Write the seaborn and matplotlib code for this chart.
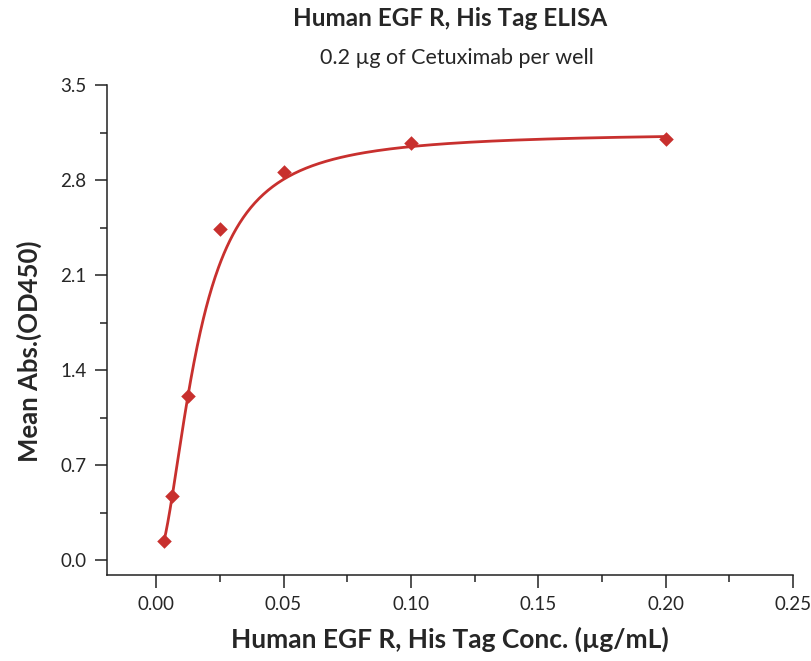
import numpy as np
import pandas as pd
import matplotlib
matplotlib.use("Agg")
import matplotlib.pyplot as plt
import seaborn as sns
from matplotlib.ticker import AutoMinorLocator

# Data
conc = [0.003125, 0.00625, 0.0125, 0.025, 0.05, 0.1, 0.2]
od450 = [0.14, 0.47, 1.21, 2.44, 2.86, 3.07, 3.10]

# 4-parameter logistic fit (estimated parameters)
bottom = 0.0
top = 3.15
ec50 = 0.0161
hill = 1.85

title = "Human EGF R, His Tag ELISA"
subtitle = "0.2 \u00b5g of Cetuximab per well"
xlabel = "Human EGF R, His Tag Conc. (\u00b5g/mL)"
ylabel = "Mean Abs.(OD450)"

red = "#C8302E"

sns.set_style("ticks")
plt.rcParams["font.family"] = ["Lato", "DejaVu Sans"]

points = pd.DataFrame({"conc": conc, "od": od450})
xfit = np.logspace(np.log10(conc[0]), np.log10(conc[-1]), 300)
yfit = top + (bottom - top) / (1 + (xfit / ec50) ** hill)
curve = pd.DataFrame({"conc": xfit, "od": yfit})

fig = plt.figure(figsize=(8.12, 6.61), dpi=100)
ax = fig.add_axes([0.1318, 0.130, 0.8448, 0.7414])

sns.lineplot(data=curve, x="conc", y="od", color=red, linewidth=2, ax=ax)
sns.scatterplot(data=points, x="conc", y="od", color=red, marker="D", s=55,
                edgecolor=red, linewidth=0, ax=ax, zorder=3)

ax.set_xlim(-0.0193, 0.25)
ax.set_ylim(-0.11, 3.5)
ax.xaxis.set_minor_locator(AutoMinorLocator(2))
ax.yaxis.set_minor_locator(AutoMinorLocator(2))
ax.set_xticks([0.0, 0.05, 0.10, 0.15, 0.20, 0.25])
ax.set_xticklabels(["0.00", "0.05", "0.10", "0.15", "0.20", "0.25"])
ax.set_yticks([0.0, 0.7, 1.4, 2.1, 2.8, 3.5])
ax.set_yticklabels(["0.0", "0.7", "1.4", "2.1", "2.8", "3.5"])

ax.tick_params(which="major", length=9, width=1.1, labelsize=13.5, color="#222222", pad=6)
ax.tick_params(which="minor", length=5, width=1.1, color="#222222")
for s in ["top", "right"]:
    ax.spines[s].set_visible(False)
for s in ["left", "bottom"]:
    ax.spines[s].set_linewidth(1.1)
    ax.spines[s].set_color("#222222")

ax.set_xlabel(xlabel, fontsize=19, fontweight="bold", labelpad=10)
ax.set_ylabel(ylabel, fontsize=18.5, fontweight="bold")
ax.yaxis.set_label_coords(-0.095, 0.457)

fig.text(0.554, 0.972, title, ha="center", va="center", fontsize=17.5, fontweight="bold")
fig.text(0.563, 0.913, subtitle, ha="center", va="center", fontsize=15.5)

fig.savefig("out.png", dpi=100)
